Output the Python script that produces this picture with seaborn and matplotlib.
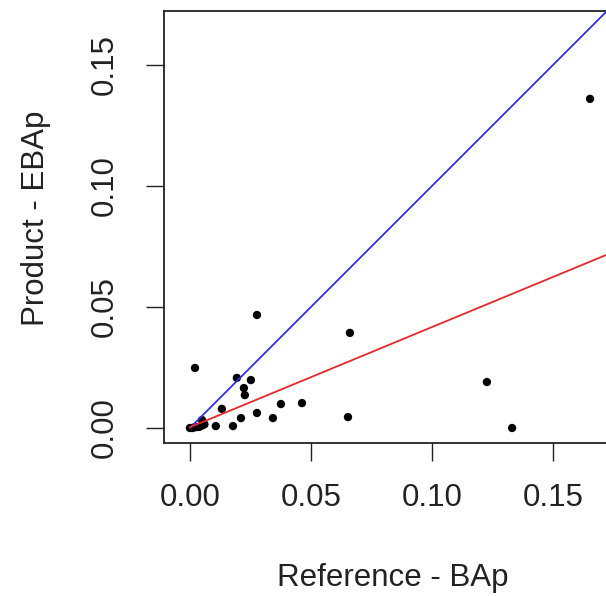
import matplotlib
matplotlib.use("Agg")
import matplotlib.pyplot as plt
import seaborn as sns
import numpy as np
import pandas as pd

# Reference vs product values (BAp vs EBAp)
ref_bap = [0.0000, 0.0010, 0.0020, 0.0030, 0.0040, 0.0050, 0.0060, 0.0050,
           0.0021, 0.0194, 0.0252, 0.0223, 0.0227, 0.0132, 0.0376, 0.0463,
           0.0277, 0.0211, 0.0343, 0.0653, 0.0107, 0.0178, 0.0277, 0.0661,
           0.1227, 0.1331, 0.1653]
prod_ebap = [0.0000, 0.0000, 0.0003, 0.0004, 0.0005, 0.0010, 0.0015, 0.0033,
             0.0248, 0.0207, 0.0198, 0.0165, 0.0136, 0.0079, 0.0099, 0.0103,
             0.0062, 0.0041, 0.0041, 0.0045, 0.0008, 0.0008, 0.0467, 0.0393,
             0.0190, 0.0000, 0.1360]

# 1:1 line and fitted line
identity_intercept, identity_slope = 0.0, 1.0
fit_intercept, fit_slope = 0.0003, 0.414

x_ticks = [0.00, 0.05, 0.10, 0.15]
y_ticks = [0.00, 0.05, 0.10, 0.15]
x_title = "Reference - BAp"
y_title = "Product - EBAp"

sns.set_style("white")
plt.rcParams["font.family"] = ["Liberation Sans", "DejaVu Sans"]

df = pd.DataFrame({"ref": ref_bap, "prod": prod_ebap})

W, H = 606, 596
fig = plt.figure(figsize=(W / 100, H / 100), dpi=100)
left, right, top, bottom = 164, 622, 11, 443
ax = fig.add_axes([left / W, (H - bottom) / H, (right - left) / W, (bottom - top) / H])

sns.scatterplot(data=df, x="ref", y="prod", ax=ax, color="black", s=36,
                edgecolor="none", zorder=2)

# both lines start at the origin and run past the right edge
line_x = np.array([0.0, 0.25])
sns.lineplot(x=line_x, y=identity_intercept + identity_slope * line_x, ax=ax,
             color="#3030e8", lw=1.3, zorder=3)
sns.lineplot(x=line_x, y=fit_intercept + fit_slope * line_x, ax=ax,
             color="#e82828", lw=1.3, zorder=3)

ax.set_xlim(-0.0107, 0.1785)
ax.set_ylim(-0.0062, 0.1723)
ax.set_xticks(x_ticks)
ax.set_xticklabels([f"{v:.2f}" for v in x_ticks])
ax.set_yticks(y_ticks)
ax.set_yticklabels([f"{v:.2f}" for v in y_ticks], rotation=90, va="center")

ax.tick_params(axis="both", direction="out", length=13, width=1.0,
               color="#222222", labelsize=22.5, labelcolor="#222222",
               left=True, bottom=True)
ax.tick_params(axis="x", pad=16)
ax.tick_params(axis="y", pad=19)
for sp in ax.spines.values():
    sp.set_visible(True)
    sp.set_color("#222222")
    sp.set_linewidth(1.3)

ax.set_xlabel(x_title, fontsize=22.5, color="#222222")
ax.set_ylabel(y_title, fontsize=22.5, color="#222222")
ax.xaxis.label.set_va("center")
ax.yaxis.label.set_va("center")
ax.xaxis.set_label_coords((393 - left) / (right - left), (bottom - 578) / (bottom - top))
ax.yaxis.set_label_coords((36 - left) / (right - left), (bottom - 218) / (bottom - top))

fig.savefig("out.png", dpi=100)
